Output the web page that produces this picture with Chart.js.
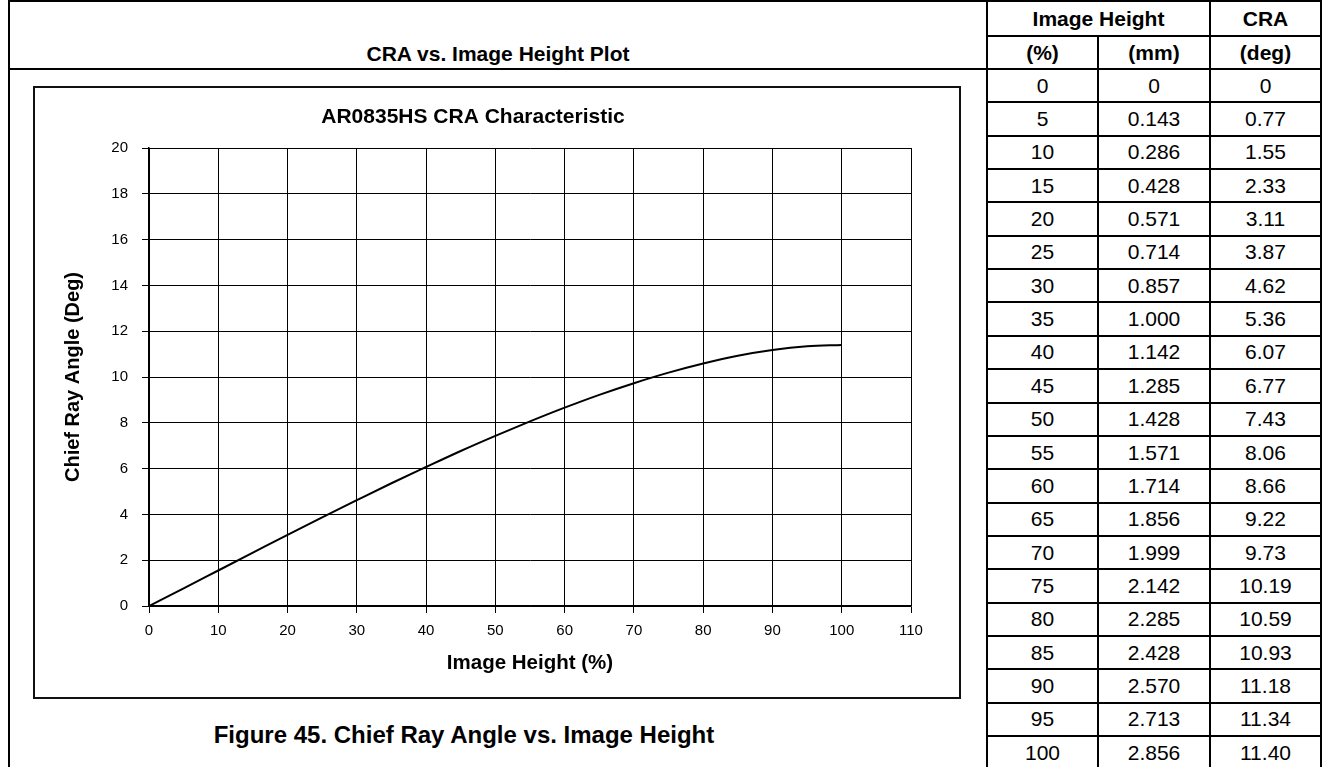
<!DOCTYPE html>
<html lang="en">
<head>
<meta charset="utf-8">
<title>CRA vs. Image Height</title>
<script src="https://cdn.jsdelivr.net/npm/chart.js@4.4.1/dist/chart.umd.min.js"></script>
<style>
  body {
    margin: 0;
    background: #fff;
    color: #000;
    font-family: 'Liberation Sans', Arial, Helvetica, sans-serif;
  }
  #page {
    position: relative;
    width: 1325px;
    height: 767px;
    overflow: hidden;
  }
  .rule {
    position: absolute;
    background: #000;
  }
  .cell {
    position: absolute;
    display: flex;
    align-items: center;
    justify-content: center;
    white-space: nowrap;
    font-size: 21px;
  }
  .head {
    font-weight: bold;
  }
  #plot-frame {
    position: absolute;
    left: 33px;
    top: 86px;
    width: 924px;
    height: 609px;
    border: 2px solid #111;
    background: #fff;
  }
  #cra-chart {
    display: block;
  }
  #caption {
    font-size: 24px;
    font-weight: bold;
  }
</style>
</head>
<body>
<div id="page">
  <div id="plot-frame">
    <canvas id="cra-chart" width="924" height="609"></canvas>
  </div>
</div>

<script>
// Image height in percent of the half diagonal
const pctValues = [0, 5, 10, 15, 20, 25, 30, 35, 40, 45, 50, 55, 60, 65, 70, 75, 80, 85, 90, 95, 100];

// Image height in mm (kept as text so trailing zeros survive)
const mmValues = ['0', '0.143', '0.286', '0.428', '0.571', '0.714', '0.857', '1.000', '1.142', '1.285', '1.428',
                  '1.571', '1.714', '1.856', '1.999', '2.142', '2.285', '2.428', '2.570', '2.713', '2.856'];

// Chief ray angle in degrees
const craValues = [0, 0.77, 1.55, 2.33, 3.11, 3.87, 4.62, 5.36, 6.07, 6.77, 7.43,
                   8.06, 8.66, 9.22, 9.73, 10.19, 10.59, 10.93, 11.18, 11.34, 11.40];

const groupHeaders = ['Image Height', 'CRA'];
const unitHeaders = ['(%)', '(mm)', '(deg)'];

const sectionTitle = 'CRA vs. Image Height Plot';
const chartTitle = 'AR0835HS CRA Characteristic';
const xAxisTitle = 'Image Height (%)';
const yAxisTitle = 'Chief Ray Angle (Deg)';
const figureCaption = 'Figure 45. Chief Ray Angle vs. Image Height';

// Table grid (px)
const colEdges = [986, 1097, 1209, 1320];
const firstDataLine = 68;
const rowPitch = 33.35;

/**
 * Add a filled rectangle used as a table rule
 */
function addRule(left, top, width, height) {
  const el = document.createElement('div');
  el.className = 'rule';
  el.style.left = left + 'px';
  el.style.top = top + 'px';
  el.style.width = width + 'px';
  el.style.height = height + 'px';
  document.getElementById('page').appendChild(el);
}

/**
 * Add a centred text cell
 */
function addCell(text, x1, x2, y1, y2, extraClass) {
  const el = document.createElement('div');
  el.className = 'cell' + (extraClass ? ' ' + extraClass : '');
  el.style.left = x1 + 'px';
  el.style.width = (x2 - x1) + 'px';
  el.style.top = y1 + 'px';
  el.style.height = (y2 - y1) + 'px';
  el.textContent = text;
  document.getElementById('page').appendChild(el);
  return el;
}

/**
 * Draw the surrounding table and the data columns
 */
function buildTable() {
  // outer rules
  addRule(8, 0, 1314, 2);
  addRule(8, 0, 2, 767);
  addRule(colEdges[0], 0, 2, 767);
  addRule(colEdges[2], 0, 2, 767);
  addRule(colEdges[3], 0, 2, 767);
  addRule(colEdges[1], 35, 2, 732);
  addRule(colEdges[0], 35, 1322 - colEdges[0], 2);
  addRule(8, firstDataLine, 1314, 2);

  // header text
  addCell(groupHeaders[0], colEdges[0] + 2, colEdges[2], 2, 35, 'head');
  addCell(groupHeaders[1], colEdges[2] + 2, colEdges[3], 2, 35, 'head');
  addCell(unitHeaders[0], colEdges[0] + 2, colEdges[1], 37, 68, 'head');
  addCell(unitHeaders[1], colEdges[1] + 2, colEdges[2], 37, 68, 'head');
  addCell(unitHeaders[2], colEdges[2] + 2, colEdges[3], 37, 68, 'head');
  addCell(sectionTitle, 10, colEdges[0], 38, 70, 'head');

  // data rows
  for (let i = 0; i < pctValues.length; i++) {
    const top = firstDataLine + rowPitch * i;
    const bottom = top + rowPitch;
    if (i > 0) {
      addRule(colEdges[0], Math.round(top), 1322 - colEdges[0], 2);
    }
    const cra = craValues[i] === 0 ? '0' : craValues[i].toFixed(2);
    addCell(String(pctValues[i]), colEdges[0] + 2, colEdges[1], top + 2, bottom);
    addCell(mmValues[i], colEdges[1] + 2, colEdges[2], top + 2, bottom);
    addCell(cra, colEdges[2] + 2, colEdges[3], top + 2, bottom);
  }

  const cap = addCell(figureCaption, 164, 764, 715, 755);
  cap.id = 'caption';
}

/**
 * Draw the CRA curve
 */
function createCraChart(canvasId) {
  const ctx = document.getElementById(canvasId).getContext('2d');
  const points = pctValues.map((p, i) => ({ x: p, y: craValues[i] }));

  Chart.defaults.font.family = "'Liberation Sans', Arial, Helvetica, sans-serif";
  Chart.defaults.color = '#000';

  return new Chart(ctx, {
    type: 'line',
    data: {
      datasets: [{
        data: points,
        borderColor: '#000',
        borderWidth: 2,
        pointRadius: 0,
        cubicInterpolationMode: 'monotone',
        fill: false
      }]
    },
    options: {
      responsive: false,
      animation: false,
      devicePixelRatio: 1,
      layout: {
        padding: { left: 0, right: 48, top: 0, bottom: 0 }
      },
      plugins: {
        legend: { display: false },
        tooltip: { enabled: false },
        title: {
          display: true,
          text: chartTitle,
          color: '#000',
          font: { size: 21, weight: 'bold' },
          padding: { top: 16.4, bottom: 18.4 }
        }
      },
      scales: {
        x: {
          type: 'linear',
          min: 0,
          max: 110,
          ticks: { stepSize: 10, padding: 9, maxRotation: 0, font: { size: 15 }, color: '#000' },
          grid: { color: '#000', lineWidth: 1, tickLength: 7 },
          border: { color: '#000', width: 1.5 },
          title: {
            display: true,
            text: xAxisTitle,
            color: '#000',
            font: { size: 20.5, weight: 'bold' },
            padding: { top: 0, bottom: 21.7 }
          },
          afterFit(scale) {
            scale.height = 91;
          }
        },
        y: {
          min: 0,
          max: 20,
          ticks: { stepSize: 2, padding: 14, font: { size: 15 }, color: '#000' },
          grid: { color: '#000', lineWidth: 1, tickLength: 7 },
          border: { color: '#000', width: 1.5 },
          title: {
            display: true,
            text: yAxisTitle,
            color: '#000',
            font: { size: 20, weight: 'bold' },
            padding: { top: 26, bottom: 0 }
          },
          afterFit(scale) {
            scale.width = 114;
          }
        }
      }
    }
  });
}

document.addEventListener('DOMContentLoaded', () => {
  buildTable();
  createCraChart('cra-chart');
});
</script>
</body>
</html>
